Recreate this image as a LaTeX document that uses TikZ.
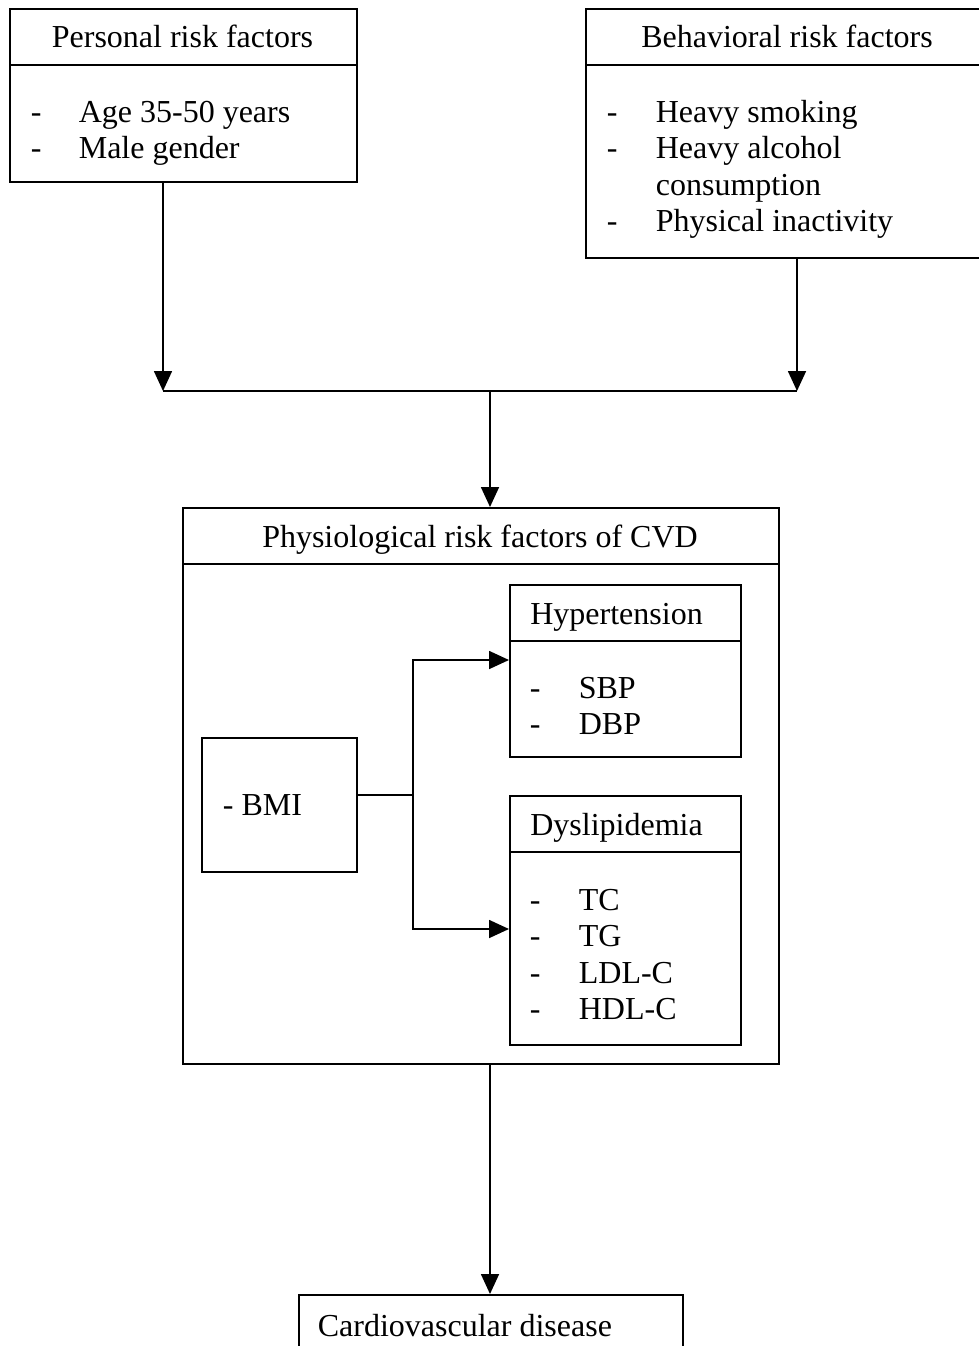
\documentclass[tikz,border=0pt]{standalone}
\usepackage{fontspec}
\setmainfont{Liberation Serif}
\usetikzlibrary{arrows.meta}
\begin{document}
\begin{tikzpicture}[x=1pt,y=-1pt,
  font=\fontsize{32}{36.5}\selectfont,
  line width=1.7pt,
  box/.style={draw,rectangle,anchor=north west,inner sep=0pt},
  txt/.style={anchor=base west,inner sep=0pt},
  ctxt/.style={anchor=base,inner sep=0pt},
  arr/.style={-{Triangle[length=20pt,width=18pt]}}]
\useasboundingbox (0,0) rectangle (978,1346);
% boxes
\node[box,minimum width=347pt,minimum height=173pt] (pers) at (9,8) {};
\node[box,minimum width=420pt,minimum height=249pt] (beh) at (585,8) {};
\node[box,minimum width=596pt,minimum height=556pt] (phys) at (182,507) {};
\node[box,minimum width=231pt,minimum height=172pt] (hyp) at (509,584) {};
\node[box,minimum width=231pt,minimum height=249pt] (dys) at (509,795) {};
\node[box,minimum width=155pt,minimum height=134pt] (bmi) at (201,737) {};
\node[box,minimum width=384pt,minimum height=100pt] (cvd) at (298,1294) {};
% dividers
\draw (pers.west |- 0,65) -- (pers.east |- 0,65);
\draw (beh.west |- 0,65) -- (beh.east |- 0,65);
\draw (phys.west |- 0,564) -- (phys.east |- 0,564);
\draw (hyp.west |- 0,641) -- (hyp.east |- 0,641);
\draw (dys.west |- 0,852) -- (dys.east |- 0,852);
% texts
\node[ctxt] (perst) at (182.5,48) {Personal risk factors};
\node[ctxt] (beht) at (787,48) {Behavioral risk factors};
\node[ctxt] (physt) at (480,547) {Physiological risk factors of CVD};
\node[txt] (hypt) at (529.5,624) {Hypertension};
\node[txt] (dyst) at (529.5,835) {Dyslipidemia};
\node[txt] (bmit) at (222,815) {- BMI};
\node[txt] (cvdt) at (317,1336) {Cardiovascular disease};
\node[txt] (persl) at (30,122) {\begin{tabular}[t]{@{}p{48pt}@{}l@{}}
-&Age 35-50 years\\
-&Male gender
\end{tabular}};
\node[txt] (behl) at (606,122) {\begin{tabular}[t]{@{}p{49pt}@{}l@{}}
-&Heavy smoking\\
-&Heavy alcohol\\
&consumption\\
-&Physical inactivity
\end{tabular}};
\node[txt] (hypl) at (529,698) {\begin{tabular}[t]{@{}p{49pt}@{}l@{}}
-&SBP\\
-&DBP
\end{tabular}};
\node[txt] (dysl) at (529,910) {\begin{tabular}[t]{@{}p{49pt}@{}l@{}}
-&TC\\
-&TG\\
-&LDL-C\\
-&HDL-C
\end{tabular}};
% connectors
\coordinate (jl) at (163,391);
\coordinate (jr) at (797,391);
\coordinate (jm) at (490,391);
\draw[arr] (jl |- pers.south) -- (jl);
\draw[arr] (jr |- beh.south) -- (jr);
\draw (jl) -- (jr);
\draw[arr] (jm) -- (jm |- phys.north);
\draw[arr] (jm |- phys.south) -- (jm |- cvd.north);
\coordinate (b1) at (413,795);
\coordinate (bt) at (413,660);
\coordinate (bb) at (413,929);
\draw (b1 -| bmi.east) -- (b1);
\draw[arr] (bb) -- (bt) -- (bt -| hyp.west);
\draw[arr] (bt) -- (bb) -- (bb -| dys.west);
\end{tikzpicture}
\end{document}
